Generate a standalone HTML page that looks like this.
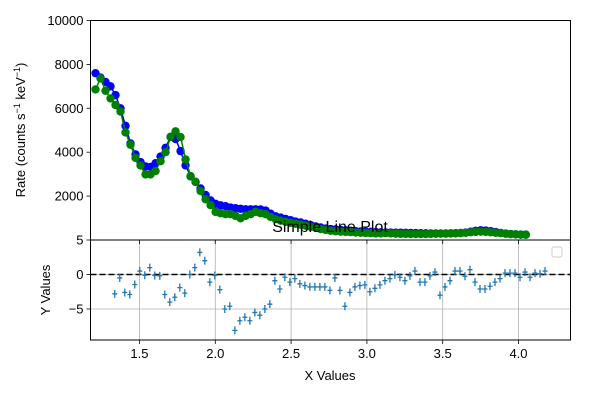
<!DOCTYPE html>
<html><head><meta charset="utf-8"><style>
body{margin:0;background:#fff;}
svg{display:block;font-family:"Liberation Sans","DejaVu Sans",sans-serif;}
</style></head><body>
<svg id="chart" width="600" height="400" viewBox="0 0 600 400" xmlns="http://www.w3.org/2000/svg"></svg>
<script>
const topX0 = 1.210, topStep = 0.033;
const blueRate = [7600,7400,7200,7000,6600,6000,5200,4400,3900,3550,3350,3330,3500,3800,4200,4700,4600,4050,3400,2900,2650,2350,2050,1800,1650,1580,1540,1480,1450,1420,1400,1400,1400,1390,1340,1200,1080,1020,960,900,840,800,740,680,620,570,520,500,480,460,440,420,400,390,380,370,360,350,345,340,335,330,325,320,315,310,305,300,300,300,300,305,310,320,340,380,420,440,430,400,360,320,290,270,260,250,245];
const greenRate = [6860,7360,6800,6450,6150,5850,4900,4340,3740,3390,2990,2990,3140,3590,4000,4690,4950,4690,3670,2910,2640,2230,1855,1585,1280,1220,1175,1175,1100,990,1100,1175,1280,1220,1175,1050,950,880,830,780,740,700,650,600,550,500,460,420,400,380,370,360,340,330,320,310,300,300,310,300,290,280,280,270,270,270,270,280,285,290,290,295,300,310,330,350,370,380,370,350,330,310,290,270,255,245,240];
const resX0 = 1.337, resStep = 0.033;
const residuals = [-2.8,-0.5,-2.6,-2.9,-1.45,0.5,-0.1,1.0,-0.15,-0.2,-2.9,-4.0,-3.3,-1.9,-2.7,0,1.0,3.2,2.0,-1.1,-0.15,-2.2,-5.0,-4.6,-8.1,-6.7,-6.2,-6.7,-5.5,-5.9,-5.0,-4.3,-0.9,-2.1,-0.4,-1.1,-0.6,-1.35,-1.6,-1.8,-1.8,-1.8,-1.8,-2.3,-0.5,-2.3,-4.6,-2.6,-1.8,-1.6,-1.5,-2.5,-2.0,-1.5,-0.9,-0.6,-0.05,-0.4,-0.9,-0.2,0.5,-1.1,-1.1,-0.2,0.35,-3.0,-1.8,-0.9,0.5,0.5,-0.25,0.7,-1.1,-2.1,-2.1,-1.7,-1.1,-0.6,0.2,0.2,0.2,-0.4,0.35,-0.4,0.2,0.1,0.5];
const xTicks = [1.5,2.0,2.5,3.0,3.5,4.0];
const xTickLabels = ["1.5","2.0","2.5","3.0","3.5","4.0"];
const topYTicks = [2000,4000,6000,8000,10000];
const resYTicks = [5,0,-5];

const svg = document.getElementById('chart');
const NS = 'http://www.w3.org/2000/svg';
function mk(tag, attrs, parent){const e=document.createElementNS(NS,tag);for(const k in attrs)e.setAttribute(k,attrs[k]);(parent||svg).appendChild(e);return e;}
const L=90.5,R=570.5;
const xs = v => L + (v-1.177)/(4.343-1.177)*(R-L);
const yTop = v => 240 - v/10000*219.5;
const yRes = v => 274.5 - v*6.9;

const grid = mk('g',{});


xTicks.forEach(t=>{mk('line',{x1:xs(t),x2:xs(t),y1:240,y2:340,stroke:'#b0b0b0','stroke-width':0.8},grid);});
resYTicks.forEach(t=>{mk('line',{x1:L,x2:R,y1:yRes(t),y2:yRes(t),stroke:'#b0b0b0','stroke-width':0.8},grid);});

function series(vals,color,name){
  const g=mk('g',{});
  
  
  const pts=vals.map((v,i)=>xs(topX0+i*topStep).toFixed(1)+','+yTop(v).toFixed(1)).join(' ');
  mk('polyline',{points:pts,fill:'none',stroke:color,'stroke-width':1.5},g);
  vals.forEach((v,i)=>{
    const c=mk('circle',{cx:xs(topX0+i*topStep),cy:yTop(v),r:4.2,fill:color},g);
    
    
  });
}
series(blueRate,'#0000ff','blue-series');
series(greenRate,'#008000','green-series');

const rg=mk('g',{});


mk('line',{x1:L,x2:R,y1:yRes(0),y2:yRes(0),stroke:'#000','stroke-width':1.5,'stroke-dasharray':'6,3'},rg);
residuals.forEach((v,i)=>{
  const x=xs(resX0+i*resStep), y=yRes(v);
  const e=mk('path',{d:`M${x-2.5},${y}H${x+2.5}M${x},${y-4}V${y+4}`,stroke:'#1f77b4','stroke-width':1.3,fill:'none'},rg);
  
  
});

const f1=mk('rect',{x:L,y:20.5,width:R-L,height:219.5,fill:'none',stroke:'#000','stroke-width':1});


const f2=mk('rect',{x:L,y:240,width:R-L,height:100,fill:'none',stroke:'#000','stroke-width':1});



xTicks.forEach((t,i)=>{
  mk('line',{x1:xs(t),x2:xs(t),y1:240,y2:244,stroke:'#000','stroke-width':0.8});
  mk('line',{x1:xs(t),x2:xs(t),y1:340,y2:344,stroke:'#000','stroke-width':0.8});
  const tx=mk('text',{x:xs(t),y:358,'text-anchor':'middle','font-size':13,fill:'#000'});
  tx.textContent=xTickLabels[i];
  
  
});
topYTicks.forEach(t=>{
  mk('line',{x1:L-4,x2:L,y1:yTop(t),y2:yTop(t),stroke:'#000','stroke-width':0.8});
  const tx=mk('text',{x:L-7,y:yTop(t)+4.5,'text-anchor':'end','font-size':13,fill:'#000'});
  tx.textContent=String(t);
  
  
});
resYTicks.forEach(t=>{
  mk('line',{x1:L-4,x2:L,y1:yRes(t),y2:yRes(t),stroke:'#000','stroke-width':0.8});
  const tx=mk('text',{x:L-7,y:yRes(t)+4.5,'text-anchor':'end','font-size':13,fill:'#000'});
  tx.textContent=t<0?'\u2212'+Math.abs(t):String(t);
  
  
});
</script>
<div style="position:absolute;left:0;top:0;width:600px;height:400px;pointer-events:none;">
<svg width="600" height="400" style="position:absolute;left:0;top:0;font-family:'Liberation Sans','DejaVu Sans',sans-serif;">
<text x="330" y="232" text-anchor="middle" font-size="16">Simple Line Plot</text>
<text x="330" y="380" text-anchor="middle" font-size="13">X Values</text>
<text transform="translate(50,290) rotate(-90)" text-anchor="middle" font-size="13">Y Values</text>
<text transform="translate(25,130) rotate(-90)" text-anchor="middle" font-size="13">Rate (counts s<tspan dy="-5" font-size="9">−1</tspan><tspan dy="5"> keV</tspan><tspan dy="-5" font-size="9">−1</tspan><tspan dy="5">)</tspan></text>
<rect x="552" y="247" width="10" height="10" rx="2" fill="#fff" stroke="#ccc" stroke-width="1"/>
</svg>
</div>
</body></html>
